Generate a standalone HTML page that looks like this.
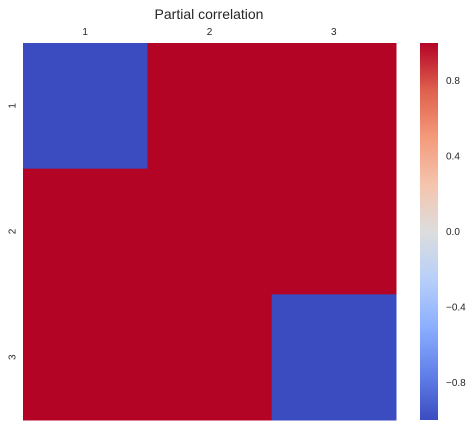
<!DOCTYPE html>
<html><head><meta charset="utf-8"><style>
body{margin:0;background:#fff;font-family:"Liberation Sans",sans-serif;}
</style></head><body>
<svg id="chart" width="472" height="427" xmlns="http://www.w3.org/2000/svg">
<defs>
<linearGradient id="cw" x1="0" y1="1" x2="0" y2="0">
<stop offset="0" stop-color="rgb(59,76,192)"/>
<stop offset="0.125" stop-color="rgb(98,130,234)"/>
<stop offset="0.25" stop-color="rgb(141,176,254)"/>
<stop offset="0.375" stop-color="rgb(184,208,249)"/>
<stop offset="0.5" stop-color="rgb(221,221,221)"/>
<stop offset="0.625" stop-color="rgb(245,196,173)"/>
<stop offset="0.75" stop-color="rgb(244,154,123)"/>
<stop offset="0.875" stop-color="rgb(222,96,77)"/>
<stop offset="1" stop-color="rgb(180,4,38)"/>
</linearGradient>
</defs>
<text x="209" y="19" text-anchor="middle" font-size="14" fill="#262626">Partial correlation</text>
<g id="cells"></g>
<g id="xt"></g><g id="yt"></g>
<rect x="420" y="43" width="18" height="377" fill="url(#cw)"/>
<g id="cbt"></g>
</svg>
<script>
const labels = ["1","2","3"];
const values = [[-1,1,1],[1,1,1],[1,1,-1]];
const cbTicks = [0.8,0.4,0.0,-0.4,-0.8];
const cbTickLabels = ["0.8","0.4","0.0","\u22120.4","\u22120.8"];
const vmin=-1, vmax=1;
const L=23,T=43,W=373,H=377;
const ns="http://www.w3.org/2000/svg";
const stops=[[59,76,192],[98,130,234],[141,176,254],[184,208,249],[221,221,221],[245,196,173],[244,154,123],[222,96,77],[180,4,38]];
function color(v){let t=(v-vmin)/(vmax-vmin);t=Math.max(0,Math.min(1,t))*8;const i=Math.min(7,Math.floor(t)),f=t-i;const a=stops[i],b=stops[i+1];return `rgb(${a.map((c,k)=>Math.round(c+(b[k]-c)*f)).join(",")})`;}
const n=labels.length, cw=W/n, ch=H/n;
const cells=document.getElementById('cells');
values.forEach((row,r)=>row.forEach((v,c)=>{
 const e=document.createElementNS(ns,'rect');
 e.setAttribute('x',L+c*cw);e.setAttribute('y',T+r*ch);e.setAttribute('width',cw+0.5);e.setAttribute('height',ch+0.5);e.setAttribute('fill',color(v));
 
 
 cells.appendChild(e);
}));
labels.forEach((l,i)=>{
 const t=document.createElementNS(ns,'text');
 t.setAttribute('x',L+(i+0.5)*cw);t.setAttribute('y',35);t.setAttribute('text-anchor','middle');t.setAttribute('font-size','10');t.setAttribute('fill','#262626');t.textContent=l;
 
 
 document.getElementById('xt').appendChild(t);
 const y=document.createElementNS(ns,'text');
 const yy=T+(i+0.5)*ch;
 y.setAttribute('x',12);y.setAttribute('y',yy);y.setAttribute('text-anchor','middle');y.setAttribute('font-size','10');y.setAttribute('fill','#262626');
 y.setAttribute('transform',`rotate(-90 12 ${yy}) translate(0 3.5)`);y.textContent=l;
 
 
 document.getElementById('yt').appendChild(y);
});
cbTicks.forEach((v,i)=>{
 const yy=T+H*(vmax-v)/(vmax-vmin);
 const t=document.createElementNS(ns,'text');
 t.setAttribute('x',446);t.setAttribute('y',yy+3.5);t.setAttribute('font-size','10');t.setAttribute('fill','#262626');t.textContent=cbTickLabels[i];
 
 
 document.getElementById('cbt').appendChild(t);
});
</script>
</body></html>
